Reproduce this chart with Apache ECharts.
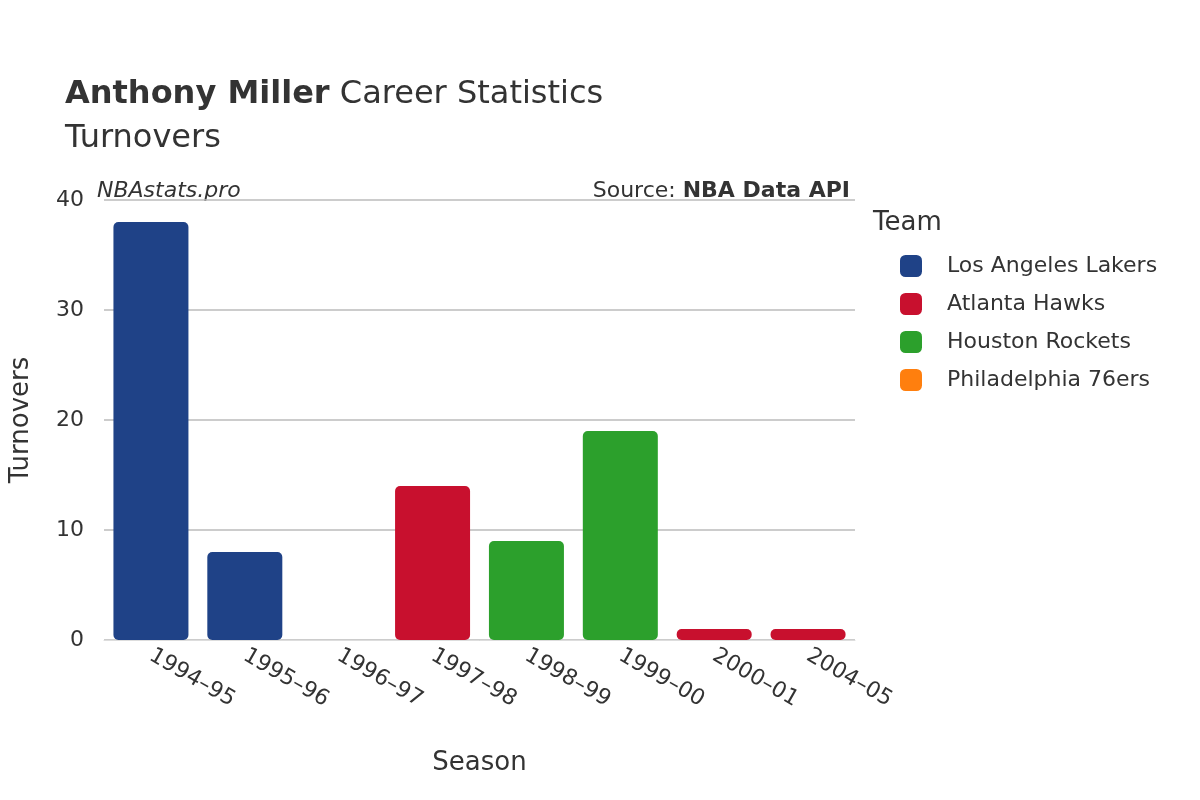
<!DOCTYPE html>
<html><head><meta charset="utf-8">
<script src="https://cdn.jsdelivr.net/npm/echarts@6/dist/echarts.min.js"></script>
<style>html,body{margin:0;padding:0;background:#fff}#c{width:1200px;height:800px}</style>
</head><body><div id="c"></div>
<script>
const seasons = ["1994–95","1995–96","1996–97","1997–98","1998–99","1999–00","2000–01","2004–05"];
const teams = ["Los Angeles Lakers","Atlanta Hawks","Houston Rockets","Philadelphia 76ers"];
const colors = ["#1f4287","#c8102e","#2ca02c","#ff7f0e"];
const lakers = [38,8,null,null,null,null,null,null];
const hawks = [null,null,null,14,null,null,1,1];
const rockets = [null,null,null,null,9,19,null,null];
const sixers = [null,null,0,null,null,null,null,null];
const values = [lakers,hawks,rockets,sixers];
const F = "DejaVu Sans";
const chart = echarts.init(document.getElementById('c'));
chart.setOption({
  textStyle:{fontFamily:F},
  title:{left:60,top:68,text:"{b|Anthony Miller} Career Statistics\nTurnovers",
    textStyle:{fontFamily:F,fontSize:32,color:"#333",fontWeight:"normal",lineHeight:44,
      rich:{b:{fontFamily:F,fontSize:32,fontWeight:"bold",color:"#333"}}}},
  graphic:[
    {type:"text",left:97,top:180,style:{text:"NBAstats.pro",font:"italic 22px DejaVu Sans",fill:"#333"}},
    {type:"text",right:350,top:180,style:{text:"{a|Source: }{b|NBA Data API}",rich:{a:{font:"22px DejaVu Sans",fill:"#333"},b:{font:"bold 22px DejaVu Sans",fill:"#333"}}}}
  ],
  legend:{orient:"vertical",left:895,top:250,itemWidth:22,itemHeight:22,itemGap:16,
    icon:"roundRect",data:teams,textStyle:{fontFamily:F,fontSize:22,color:"#333",padding:[0,0,0,20]}},
  grid:{left:97,right:345,top:200,bottom:160},
  xAxis:{type:"category",data:seasons,name:"Season",nameLocation:"middle",nameGap:110,
    nameTextStyle:{fontFamily:F,fontSize:26,color:"#333"},
    axisLine:{lineStyle:{color:"#ddd"}},axisTick:{show:false},
    axisLabel:{rotate:-30,fontFamily:F,fontSize:22,color:"#333",margin:14,align:"left"}},
  yAxis:{type:"value",min:0,max:40,interval:10,name:"Turnovers",nameLocation:"middle",nameGap:70,
    nameTextStyle:{fontFamily:F,fontSize:26,color:"#333"},
    axisLabel:{fontFamily:F,fontSize:22,color:"#333",margin:20},
    splitLine:{lineStyle:{color:"#bbb",width:1.5}}},
  series: teams.map((t,i)=>({name:t,type:"bar",stack:"s",data:values[i],barWidth:75,
    itemStyle:{color:colors[i],borderRadius:5}}))
});
chart.getZr().add(new echarts.graphic.Text({style:{text:"Team",x:873,y:210,font:"26px DejaVu Sans",fill:"#333"}}));
</script></body></html>
